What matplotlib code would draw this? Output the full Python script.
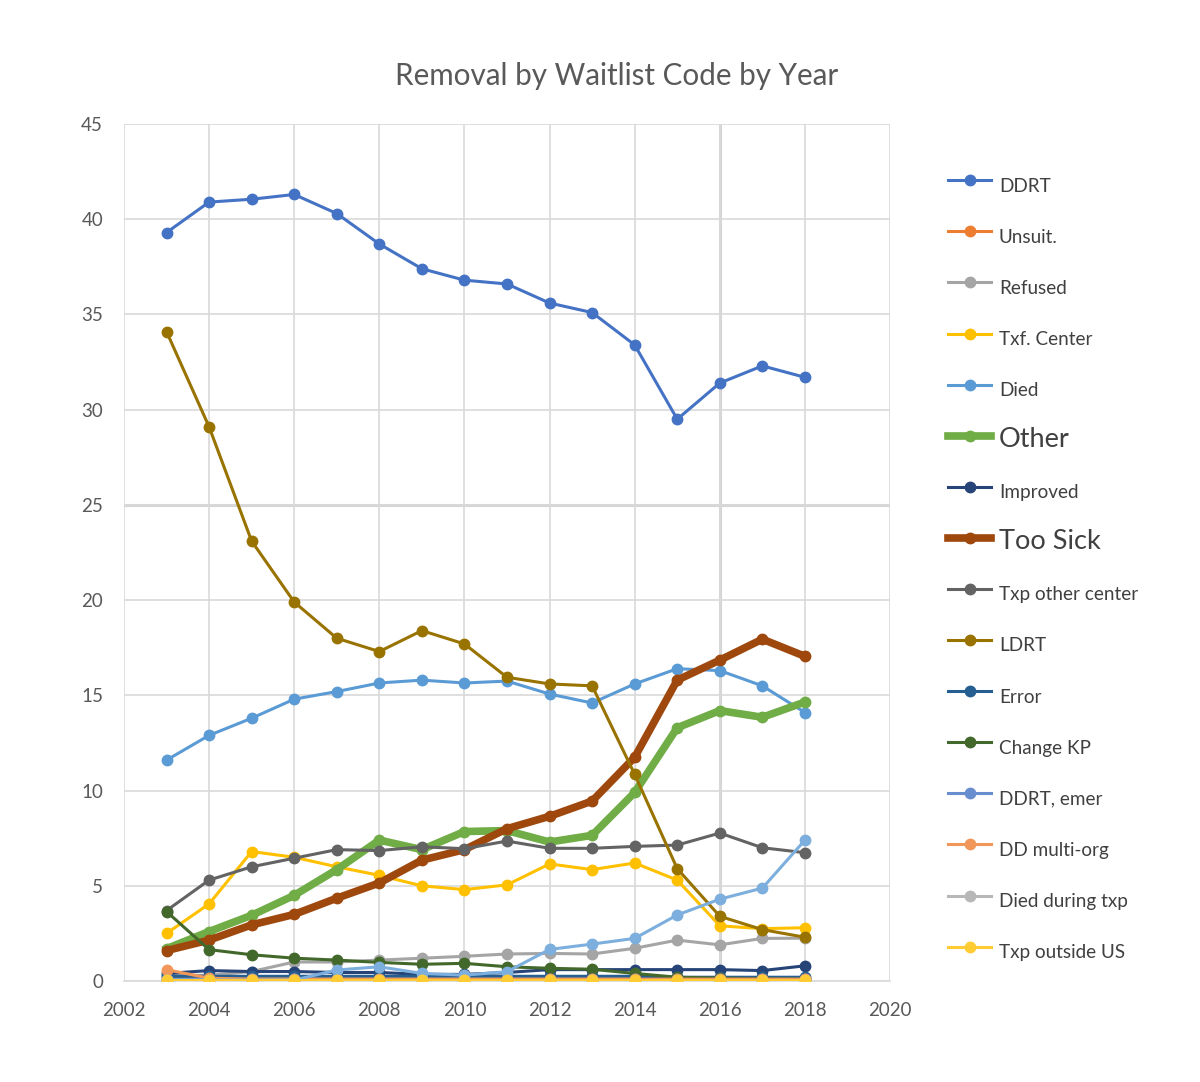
import matplotlib
matplotlib.use("Agg")
import matplotlib.pyplot as plt

plt.rcParams['font.family'] = ['Lato', 'DejaVu Sans']

years = list(range(2003, 2019))

ddrt = [39.3, 40.9, 41.05, 41.3, 40.3, 38.7, 37.4, 36.8, 36.6, 35.6, 35.1, 33.4, 29.5, 31.4, 32.3, 31.7]
unsuit = [0.15, 0.1, 0.1, 0.1, 0.1, 0.1, 0.1, 0.1, 0.1, 0.1, 0.1, 0.1, 0.1, 0.1, 0.1, 0.1]
refused = [0.3, 0.3, 0.5, 1.0, 1.0, 1.1, 1.2, 1.3, 1.42, 1.45, 1.42, 1.72, 2.15, 1.9, 2.24, 2.25]
txf_center = [2.5, 4.05, 6.8, 6.5, 6.0, 5.55, 5.0, 4.8, 5.05, 6.15, 5.85, 6.2, 5.3, 2.9, 2.75, 2.8]
died = [11.6, 12.9, 13.8, 14.8, 15.2, 15.65, 15.8, 15.65, 15.75, 15.07, 14.6, 15.6, 16.4, 16.3, 15.5, 14.1]
other = [1.7, 2.6, 3.45, 4.5, 5.85, 7.4, 6.9, 7.85, 7.9, 7.3, 7.65, 9.9, 13.3, 14.2, 13.85, 14.65]
improved = [0.4, 0.55, 0.5, 0.5, 0.45, 0.45, 0.35, 0.35, 0.45, 0.6, 0.6, 0.6, 0.6, 0.6, 0.55, 0.8]
too_sick = [1.6, 2.15, 2.95, 3.5, 4.35, 5.15, 6.35, 6.9, 8.0, 8.65, 9.45, 11.75, 15.8, 16.85, 17.95, 17.05]
txp_other = [3.7, 5.3, 6.0, 6.45, 6.9, 6.85, 7.05, 6.95, 7.35, 6.97, 6.97, 7.07, 7.14, 7.77, 7.0, 6.74]
ldrt = [34.1, 29.1, 23.1, 19.9, 18.0, 17.3, 18.4, 17.7, 15.95, 15.6, 15.5, 10.85, 5.9, 3.4, 2.7, 2.3]
error = [0.25, 0.25, 0.25, 0.25, 0.25, 0.25, 0.25, 0.25, 0.25, 0.25, 0.25, 0.25, 0.2, 0.2, 0.2, 0.2]
change_kp = [3.65, 1.65, 1.38, 1.2, 1.1, 0.98, 0.88, 0.93, 0.75, 0.67, 0.62, 0.4, 0.2, 0.15, 0.12, 0.1]
ddrt_emer = [0.1, 0.1, 0.1, 0.1, 0.1, 0.1, 0.1, 0.1, 0.1, 0.1, 0.1, 0.1, 0.1, 0.1, 0.1, 0.1]
dd_multi = [0.6, 0.15, 0.1, 0.1, 0.1, 0.1, 0.1, 0.1, 0.1, 0.1, 0.1, 0.1, 0.1, 0.1, 0.1, 0.1]
died_txp = [0.05, 0.05, 0.05, 0.05, 0.05, 0.05, 0.05, 0.05, 0.05, 0.05, 0.05, 0.05, 0.05, 0.05, 0.05, 0.05]
txp_outside = [0.05, 0.05, 0.05, 0.05, 0.05, 0.05, 0.05, 0.05, 0.05, 0.05, 0.05, 0.05, 0.05, 0.05, 0.05, 0.05]
unlisted = [0.05, 0.05, 0.05, 0.05, 0.58, 0.75, 0.4, 0.31, 0.49, 1.66, 1.94, 2.24, 3.47, 4.3, 4.88, 7.4]

series = [
    ("DDRT", ddrt, "#4472C4", False),
    ("Unsuit.", unsuit, "#ED7D31", False),
    ("Refused", refused, "#A5A5A5", False),
    ("Txf. Center", txf_center, "#FFC000", False),
    ("Died", died, "#5B9BD5", False),
    ("Other", other, "#70AD47", True),
    ("Improved", improved, "#264478", False),
    ("Too Sick", too_sick, "#9E480E", True),
    ("Txp other center", txp_other, "#636363", False),
    ("LDRT", ldrt, "#997300", False),
    ("Error", error, "#255E91", False),
    ("Change KP", change_kp, "#43682B", False),
    ("DDRT, emer", ddrt_emer, "#698ED0", False),
    ("DD multi-org", dd_multi, "#F1975A", False),
    ("Died during txp", died_txp, "#B7B7B7", False),
    ("Txp outside US", txp_outside, "#FFCD33", False),
]

fig = plt.figure(figsize=(12, 10.82), dpi=100)
ax = fig.add_axes([0.1033, 0.0933, 0.6384, 0.7921])

handles = []
for i, (name, vals, col, bold) in enumerate(series):
    lw = 5.5 if bold else 2.2
    h, = ax.plot(years, vals, color=col, lw=lw, marker='o', markersize=7.5,
                 label=name, zorder=3 + i * 0.01)
    handles.append(h)
    if name == "DD multi-org":
        ax.plot(years, unlisted, color="#7CAFDD", lw=2.2, marker='o',
                markersize=7.5, label='_nolegend_', zorder=3 + i * 0.01 + 0.005)

ax.set_xlim(2002, 2020)
ax.set_ylim(0, 45)
ax.set_xticks(range(2002, 2021, 2))
ax.set_yticks(range(0, 46, 5))
ax.grid(True, color="#D9D9D9", lw=1.2, zorder=0)
ax.axvline(2016, color="#D4D4D4", lw=2.2, zorder=1)
ax.axhline(25, color="#D4D4D4", lw=2.2, zorder=1)
for s in ['top', 'right', 'left']:
    ax.spines[s].set_visible(False)
ax.spines['bottom'].set_color("#D9D9D9")
ax.spines['bottom'].set_linewidth(1.2)
ax.tick_params(length=0, labelsize=13.5, labelcolor="#595959")
ax.tick_params(axis='y', pad=15)
ax.tick_params(axis='x', pad=15)

fig.text(0.5135, 0.930, "Removal by Waitlist Code by Year", ha='center', va='center',
         fontsize=21.3, color="#595959")

leg = ax.legend(handles=handles, loc='upper left', bbox_to_anchor=(0.790, 0.8440),
                bbox_transform=fig.transFigure, frameon=False, fontsize=13.6,
                handlelength=2.3, handleheight=2.4, labelspacing=0.9,
                handletextpad=0.4, borderaxespad=0, borderpad=0)
for t in leg.get_texts():
    t.set_color("#404040")
    if t.get_text() in ("Other", "Too Sick"):
        t.set_fontsize(19.5)

fig.savefig("out.png", dpi=100)
